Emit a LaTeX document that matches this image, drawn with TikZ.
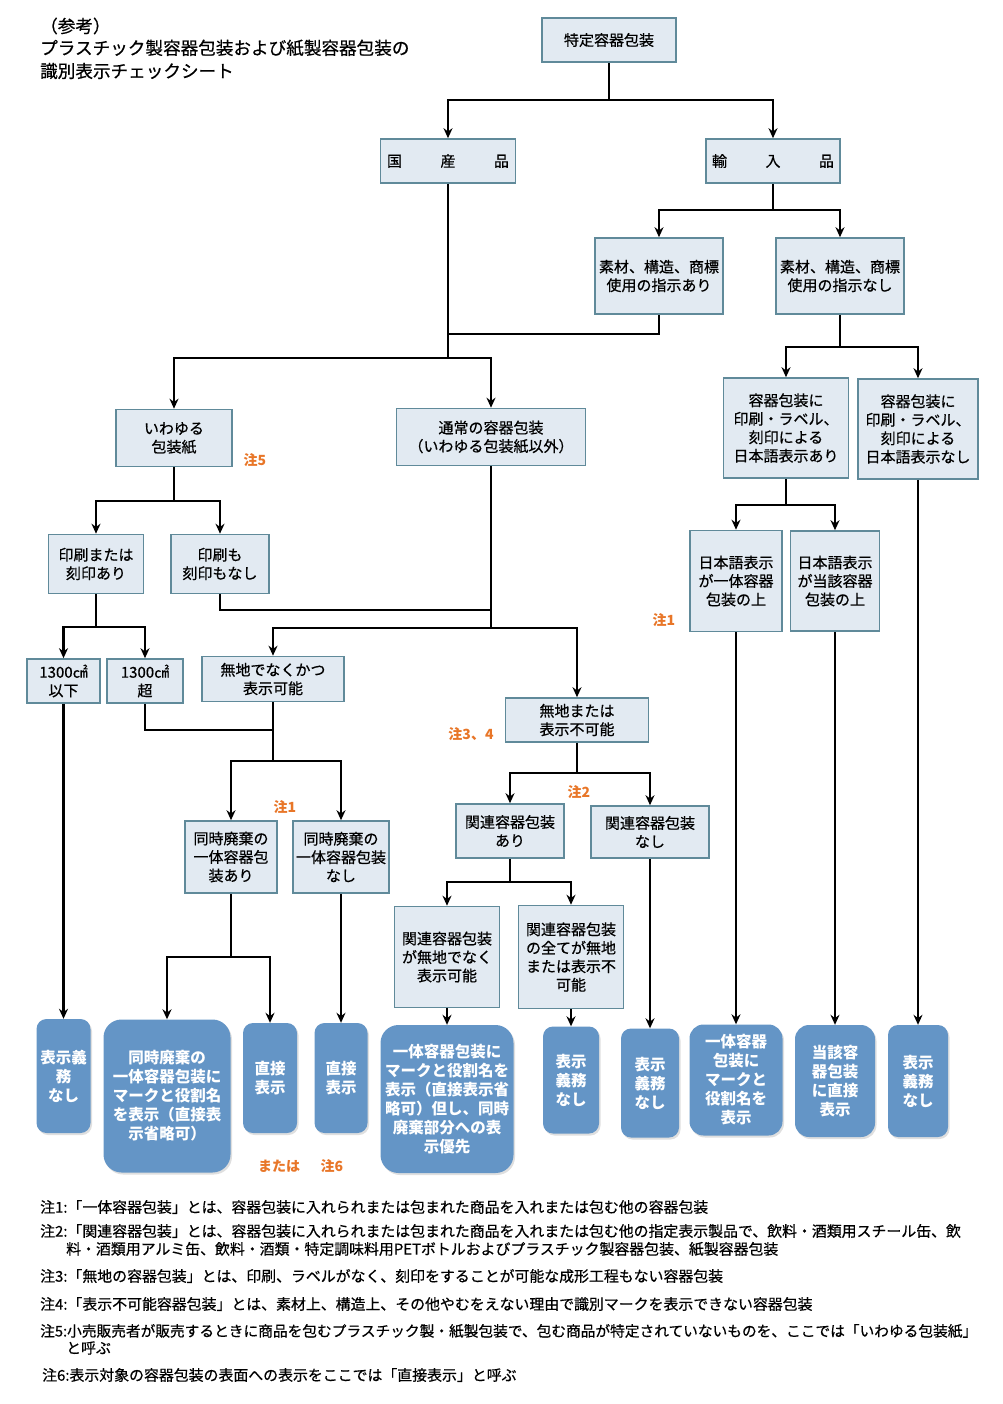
\documentclass[tikz,border=0pt]{standalone}
\usepackage{fontspec}
\setmainfont{Noto Sans CJK JP}[UprightFeatures={FakeBold=0.6}]
\usetikzlibrary{arrows.meta,shadows}
\definecolor{boxfill}{RGB}{226,234,242}
\definecolor{boxline}{RGB}{96,138,154}
\definecolor{bluebox}{RGB}{100,149,198}
\definecolor{notecol}{RGB}{232,118,40}
\tikzset{
  lbox/.style={draw=boxline, line width=1.6pt, fill=boxfill, inner sep=0pt, align=center, font=\fontsize{15}{18.5}\selectfont},
  bbox/.style={fill=bluebox, rounded corners=10pt, inner sep=0pt, align=center, text=white,
    font=\bfseries\fontsize{15.5}{19}\selectfont,
    drop shadow={opacity=0.25,shadow xshift=1.5pt,shadow yshift=-2pt}},
  link/.style={line width=2.6pt},
  arr/.style={link, -{Stealth[length=10pt,width=9pt]}},
  notelbl/.style={text=notecol, inner sep=0pt, font=\bfseries\fontsize{14}{16}\selectfont},
  foot/.style={anchor=west, inner sep=0pt, font=\fontsize{14.9}{17}\selectfont},
  titletext/.style={anchor=west, inner sep=0pt, font=\fontsize{17.6}{20}\selectfont},
}
\begin{document}
\begin{tikzpicture}[x=1pt,y=-1pt]
\useasboundingbox (0,0) rectangle (1002,1404);

% title
\node[titletext] (t1) at (40,26) {（参考）};
\node[titletext] (t2) at (40,48) {プラスチック製容器包装および紙製容器包装の};
\node[titletext] (t3) at (40,71) {識別表示チェックシート};

% light boxes
\node[lbox, minimum width=134pt, minimum height=44pt] (tokutei) at (609,40) {特定容器包装};
\node[lbox, minimum width=135pt, minimum height=44pt] (kokusan) at (448,161) {\makebox[122pt][s]{国\hfill 産\hfill 品}};
\node[lbox, minimum width=134pt, minimum height=44pt] (yunyu) at (773,161) {\makebox[122pt][s]{輸\hfill 入\hfill 品}};
\node[lbox, minimum width=128pt, minimum height=76pt] (shijiari) at (659,276) {素材、構造、商標\\使用の指示あり};
\node[lbox, minimum width=128pt, minimum height=76pt] (shijinashi) at (840,276) {素材、構造、商標\\使用の指示なし};
\node[lbox, minimum width=116pt, minimum height=57pt] (iwayuru) at (174,438) {いわゆる\\包装紙};
\node[lbox, minimum width=189pt, minimum height=57pt] (tsujo) at (491,437) {通常の容器包装\\（いわゆる包装紙以外）};
\node[lbox, minimum width=95pt, minimum height=59pt] (insatsuari) at (96,564) {印刷または\\刻印あり};
\node[lbox, minimum width=98pt, minimum height=59pt] (insatsunashi) at (220,564) {印刷も\\刻印もなし};
\node[lbox, minimum width=73pt, minimum height=44pt] (ika) at (63.5,681) {1300㎠\\以下};
\node[lbox, minimum width=76pt, minimum height=44pt] (cho) at (145,681) {1300㎠\\超};
\node[lbox, minimum width=142pt, minimum height=45pt] (mujinaku) at (273,679) {無地でなくかつ\\表示可能};
\node[lbox, minimum width=92pt, minimum height=72pt] (dojiari) at (231,857) {同時廃棄の\\一体容器包\\装あり};
\node[lbox, minimum width=96pt, minimum height=72pt] (dojinashi) at (341,857) {同時廃棄の\\一体容器包装\\なし};
\node[lbox, minimum width=143pt, minimum height=44pt] (mujimata) at (577,720) {無地または\\表示不可能};
\node[lbox, minimum width=108pt, minimum height=54pt] (kanrenari) at (510,831) {関連容器包装\\あり};
\node[lbox, minimum width=118pt, minimum height=52pt] (kanrennashi) at (650,832) {関連容器包装\\なし};
\node[lbox, minimum width=105pt, minimum height=101pt] (kanrenhyoji) at (447,957) {関連容器包装\\が無地でなく\\表示可能};
\node[lbox, minimum width=105pt, minimum height=103pt] (kanrenmuji) at (571,957) {関連容器包装\\の全てが無地\\または表示不\\可能};
\node[lbox, minimum width=125pt, minimum height=100pt] (nihongoari) at (786,428) {容器包装に\\印刷・ラベル、\\刻印による\\日本語表示あり};
\node[lbox, minimum width=120pt, minimum height=100pt] (nihongonashi) at (918,429) {容器包装に\\印刷・ラベル、\\刻印による\\日本語表示なし};
\node[lbox, minimum width=92pt, minimum height=101pt] (ittaiue) at (736,581) {日本語表示\\が一体容器\\包装の上};
\node[lbox, minimum width=89pt, minimum height=100pt] (gaitoue) at (835,581) {日本語表示\\が当該容器\\包装の上};

% blue result boxes
\node[bbox, minimum width=54pt, minimum height=114pt] (b1) at (63.5,1076) {表示義\\務\\なし};
\node[bbox, rounded corners=18pt, minimum width=127pt, minimum height=153pt] (b2) at (167,1096) {同時廃棄の\\一体容器包装に\\マークと役割名\\を表示（直接表\\示省略可）};
\node[bbox, minimum width=54pt, minimum height=110pt] (b3) at (270,1078) {直接\\表示};
\node[bbox, minimum width=53pt, minimum height=110pt] (b4) at (341,1078) {直接\\表示};
\node[bbox, rounded corners=18pt, minimum width=133pt, minimum height=148pt] (b5) at (447,1099) {一体容器包装に\\マークと役割名を\\表示（直接表示省\\略可）但し、同時\\廃棄部分への表\\示優先};
\node[bbox, minimum width=56pt, minimum height=107pt] (b6) at (571,1080) {表示\\義務\\なし};
\node[bbox, minimum width=58pt, minimum height=109pt] (b7) at (650,1083) {表示\\義務\\なし};
\node[bbox, rounded corners=14pt, minimum width=93pt, minimum height=111pt] (b8) at (736,1080) {一体容器\\包装に\\マークと\\役割名を\\表示};
\node[bbox, rounded corners=14pt, minimum width=80pt, minimum height=112pt] (b9) at (835,1081) {当該容\\器包装\\に直接\\表示};
\node[bbox, minimum width=60pt, minimum height=112pt] (b10) at (918,1081) {表示\\義務\\なし};

% note labels
\node[notelbl] (n5) at (255,460) {注5};
\node[notelbl] (n1a) at (664,620) {注1};
\node[notelbl] (n34) at (471,734) {注3、4};
\node[notelbl] (n1b) at (285,807) {注1};
\node[notelbl] (n2) at (579,792) {注2};
\node[notelbl] (mataha) at (279,1166) {または};
\node[notelbl] (n6) at (332,1166) {注6};

% junction coordinates
\coordinate (j0) at (609,100);
\coordinate (j1) at (448,358);
\coordinate (j1b) at (448,334);
\coordinate (j2) at (491,628);
\coordinate (j2b) at (491,610);
\coordinate (j3) at (174,501);
\coordinate (j4) at (96,627);
\coordinate (j5) at (273,730);
\coordinate (j6) at (273,761);
\coordinate (j7) at (231,957);
\coordinate (j8) at (577,773);
\coordinate (j9) at (510,882);
\coordinate (j10) at (773,210);
\coordinate (j11) at (840,347);
\coordinate (j12) at (786,505);

% connectors
\draw[arr] (tokutei.south) -- (j0) -| (kokusan.north);
\draw[arr] (j0) -| (yunyu.north);
\draw[link] (kokusan.south) -- (j1);
\draw[link] (shijiari.south) |- (j1b);
\draw[arr] (j1) -| (iwayuru.north);
\draw[arr] (j1) -| (tsujo.north);
\draw[arr] (yunyu.south) -- (j10) -| (shijiari.north);
\draw[arr] (j10) -| (shijinashi.north);
\draw[arr] (shijinashi.south) -- (j11) -| (nihongoari.north);
\draw[arr] (j11) -| (nihongonashi.north);
\draw[arr] (nihongoari.south) -- (j12) -| (ittaiue.north);
\draw[arr] (j12) -| (gaitoue.north);
\draw[arr] (iwayuru.south) -- (j3) -| (insatsuari.north);
\draw[arr] (j3) -| (insatsunashi.north);
\draw[link] (insatsunashi.south) |- (j2b);
\draw[link] (tsujo.south) -- (j2);
\draw[arr] (j2) -| (mujinaku.north);
\draw[arr] (j2) -| (mujimata.north);
\draw[arr] (insatsuari.south) -- (j4) -| (ika.north);
\draw[arr] (j4) -| (cho.north);
\draw[link] (cho.south) |- (j5);
\draw[link] (mujinaku.south) -- (j6);
\draw[arr] (j6) -| (dojiari.north);
\draw[arr] (j6) -| (dojinashi.north);
\draw[arr] (dojiari.south) -- (j7) -| (b2.north);
\draw[arr] (j7) -| (b3.north);
\draw[arr] (mujimata.south) -- (j8) -| (kanrenari.north);
\draw[arr] (j8) -| (kanrennashi.north);
\draw[arr] (kanrenari.south) -- (j9) -| (kanrenhyoji.north);
\draw[arr] (j9) -| (kanrenmuji.north);
\draw[arr] (ika.south) -- (b1.north);
\draw[arr] (dojinashi.south) -- (b4.north);
\draw[arr] (kanrenhyoji.south) -- (b5.north);
\draw[arr] (kanrenmuji.south) -- (b6.north);
\draw[arr] (kanrennashi.south) -- (b7.north);
\draw[arr] (ittaiue.south) -- (b8.north);
\draw[arr] (gaitoue.south) -- (b9.north);
\draw[arr] (nihongonashi.south) -- (b10.north);

% footnotes
\node[foot] (f1) at (40,1207) {注1:「一体容器包装」とは、容器包装に入れられまたは包まれた商品を入れまたは包む他の容器包装};
\node[foot] (f2) at (40,1231) {注2:「関連容器包装」とは、容器包装に入れられまたは包まれた商品を入れまたは包む他の指定表示製品で、飲料・酒類用スチール缶、飲};
\node[foot] (f2b) at (66,1249) {料・酒類用アルミ缶、飲料・酒類・特定調味料用PETボトルおよびプラスチック製容器包装、紙製容器包装};
\node[foot] (f3) at (40,1276) {注3:「無地の容器包装」とは、印刷、ラベルがなく、刻印をすることが可能な成形工程もない容器包装};
\node[foot] (f4) at (40,1304) {注4:「表示不可能容器包装」とは、素材上、構造上、その他やむをえない理由で識別マークを表示できない容器包装};
\node[foot, font=\fontsize{14.7}{17}\selectfont] (f5) at (40,1331) {注5:小売販売者が販売するときに商品を包むプラスチック製・紙製包装で、包む商品が特定されていないものを、ここでは「いわゆる包装紙」};
\node[foot] (f5b) at (66,1348) {と呼ぶ};
\node[foot] (f6) at (42,1375) {注6:表示対象の容器包装の表面への表示をここでは「直接表示」と呼ぶ};
\end{tikzpicture}
\end{document}
